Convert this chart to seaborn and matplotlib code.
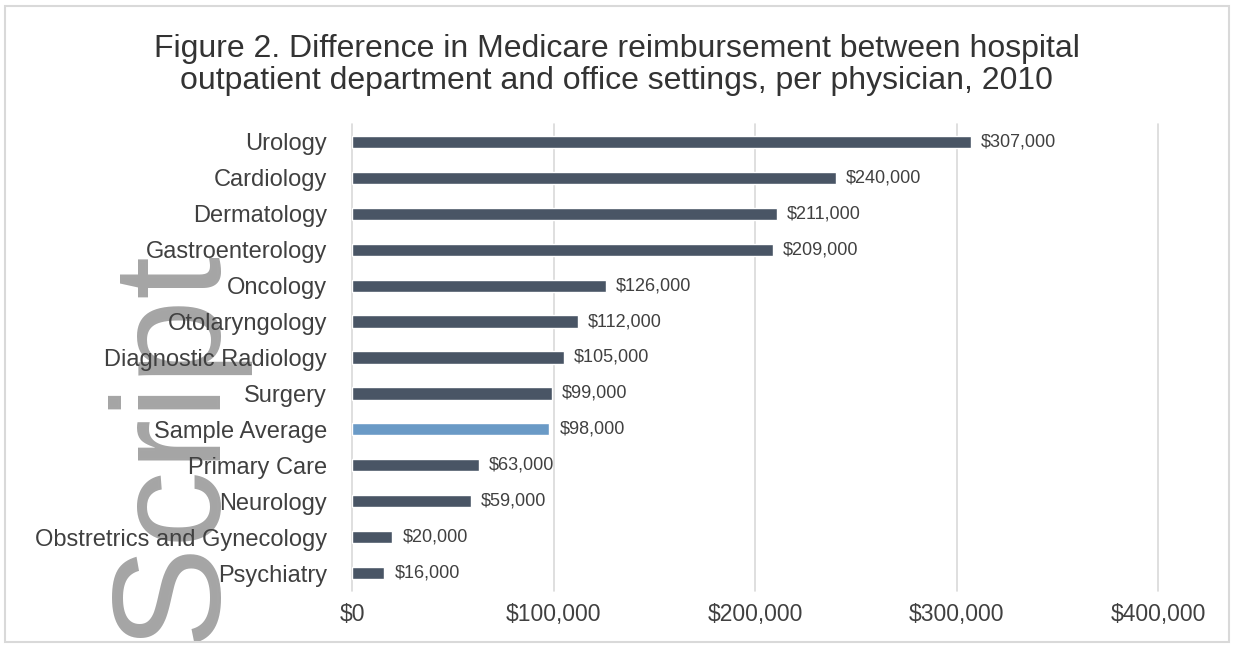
import matplotlib
matplotlib.use("Agg")
import matplotlib.pyplot as plt
import seaborn as sns
import pandas as pd
from matplotlib.patches import Rectangle

# data
specialties = ["Urology", "Cardiology", "Dermatology", "Gastroenterology", "Oncology",
               "Otolaryngology", "Diagnostic Radiology", "Surgery", "Sample Average",
               "Primary Care", "Neurology", "Obstretrics and Gynecology", "Psychiatry"]
difference = [307000, 240000, 211000, 209000, 126000, 112000, 105000,
              99000, 98000, 63000, 59000, 20000, 16000]
highlight = "Sample Average"
x_ticks = [0, 100000, 200000, 300000, 400000]

df = pd.DataFrame({"specialty": specialties, "difference": difference})

sns.set_style("white")
plt.rcParams["font.family"] = ["Liberation Sans", "DejaVu Sans"]

fig = plt.figure(figsize=(12.33, 6.47), dpi=100)
ax = fig.add_axes([0.2855, 0.0866, 0.6537, 0.7217])

colors = ["#5B9BD5" if s == highlight else "#44546A" for s in specialties]
sns.barplot(data=df, x="difference", y="specialty", hue="specialty",
            palette=colors, legend=False, width=0.34, ax=ax)

ax.set_xlim(0, 400000)
ax.set_xticks(x_ticks)
ax.set_xticklabels([f"${v:,.0f}" for v in x_ticks], fontsize=16.5, color="#404040")
ax.tick_params(axis="x", length=0, pad=9)
ax.tick_params(axis="y", length=0, pad=18, labelsize=17, labelcolor="#404040")
ax.set_xlabel("")
ax.set_ylabel("")
ax.grid(axis="x", color="#D9D9D9", linewidth=1.2)
for gl in ax.get_xgridlines():
    gl.set_clip_on(False)
ax.set_axisbelow(True)
for side in ["top", "right", "bottom", "left"]:
    ax.spines[side].set_visible(False)

for i, v in enumerate(difference):
    ax.text(v + 5000, i, f"${v:,.0f}", va="center", ha="left", fontsize=13, color="#404040")

fig.text(0.5, 0.90, "Figure 2. Difference in Medicare reimbursement between hospital\n"
         "outpatient department and office settings, per physician, 2010",
         ha="center", va="center", fontsize=23, color="#333333", linespacing=1.1)

# chart border
fig.patches.append(Rectangle((0.004, 0.008), 0.993, 0.983, transform=fig.transFigure,
                             fill=False, edgecolor="#D9D9D9", linewidth=1.5))

# watermark, drawn behind the category labels
fig.text(0.141, 0.312, "Script", rotation=90, ha="center", va="center",
         fontsize=111, color="#A5A5A5", zorder=-1)

fig.savefig("out.png", dpi=100)
